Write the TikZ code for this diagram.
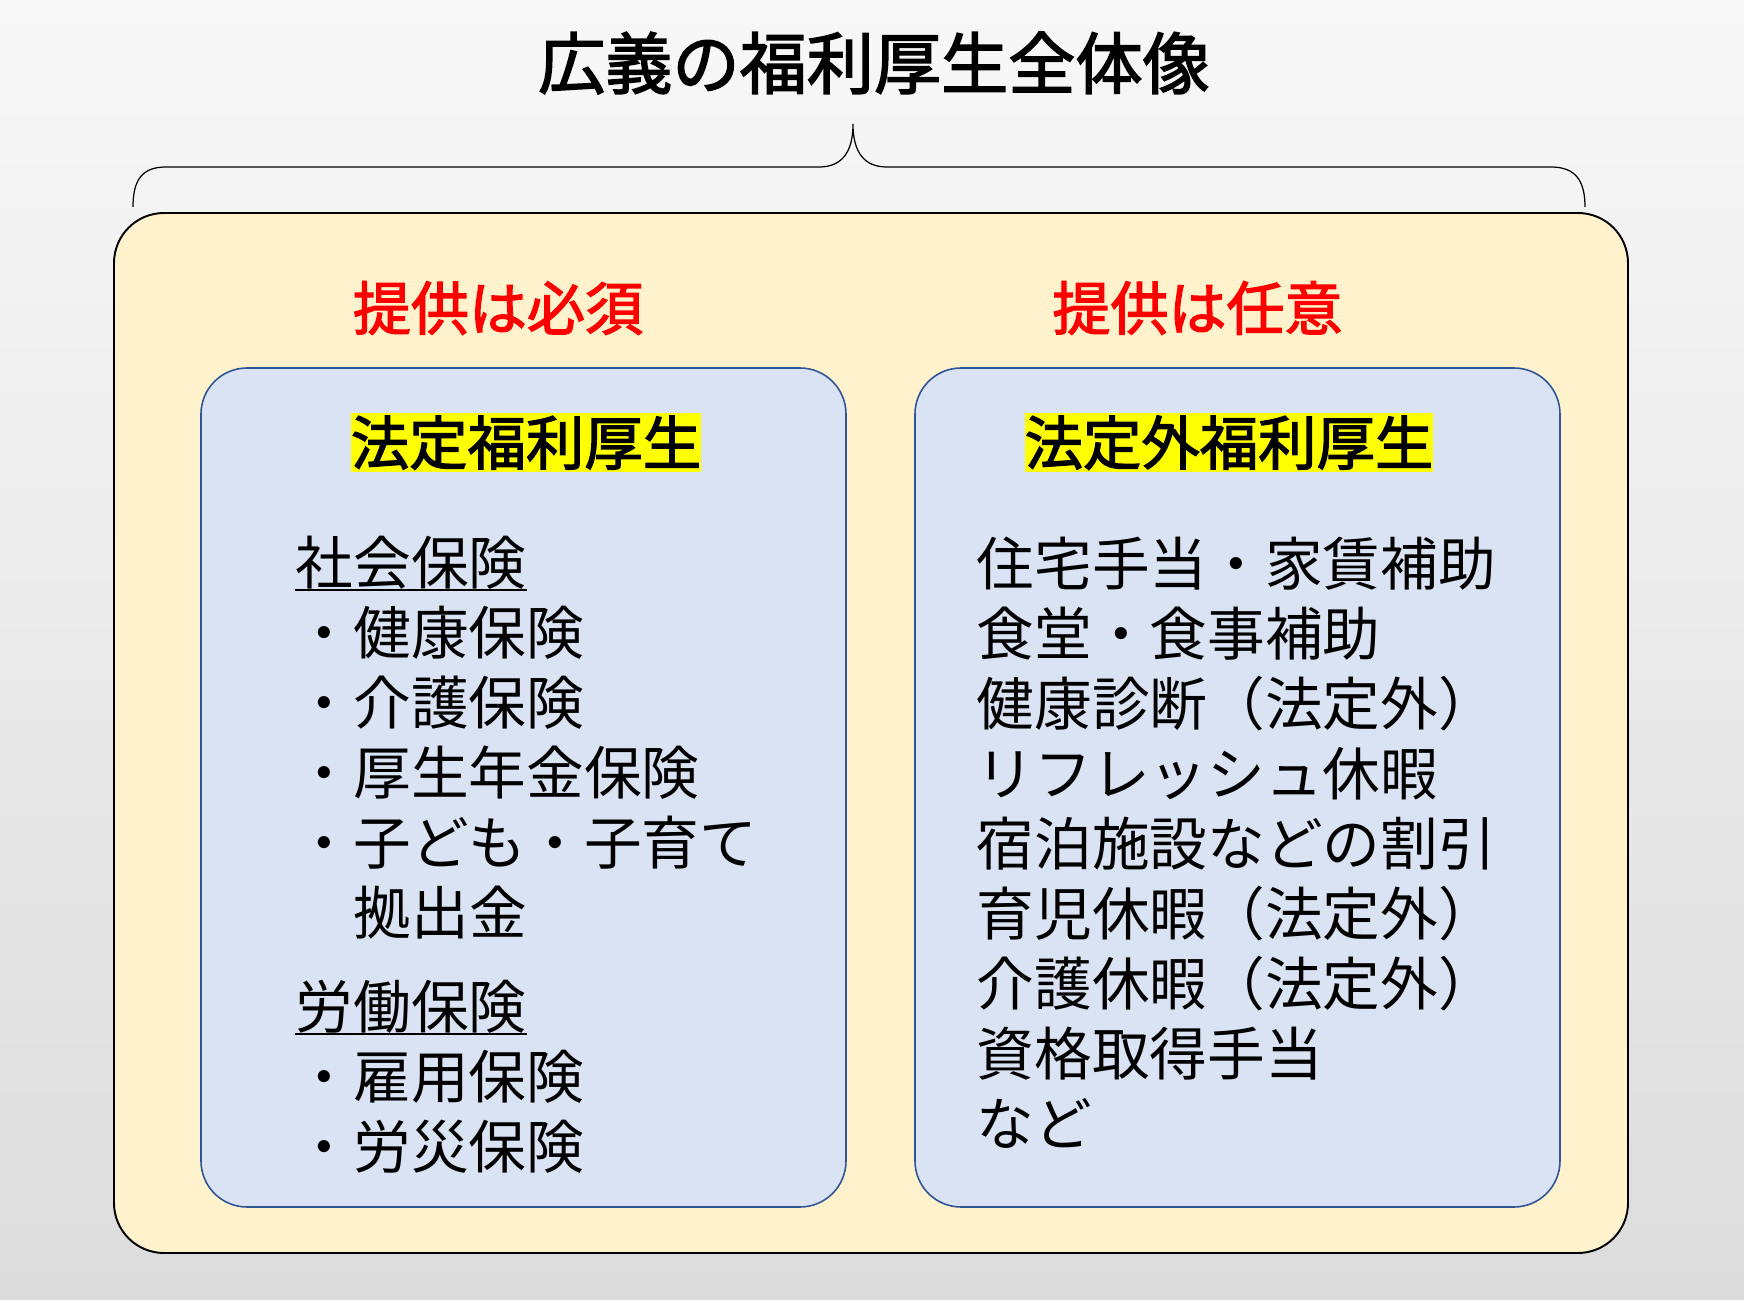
\documentclass[tikz,border=0pt]{standalone}
\usepackage{fontspec}
\setmainfont{Noto Sans CJK JP}
\newfontfamily\jpmed[FakeBold=2.2]{Noto Sans CJK JP}
\definecolor{outerfill}{HTML}{FFF2CC}
\definecolor{innerfill}{HTML}{DAE3F3}
\definecolor{innerdraw}{HTML}{2F5597}
\definecolor{hlyellow}{HTML}{FFFF00}
\definecolor{redtxt}{HTML}{FF0000}
\definecolor{bgtop}{HTML}{F8F8F8}
\definecolor{bgbottom}{HTML}{DCDCDC}
\begin{document}
\begin{tikzpicture}[x=0.01cm,y=-0.01cm,
  body/.style={inner sep=0pt, text height=14.43pt, text depth=1.97pt, anchor=west,
    font=\fontsize{16.4pt}{16.4pt}\selectfont},
  redhead/.style={inner sep=0pt, text height=14.52pt, text depth=1.98pt,
    text=redtxt, font=\fontsize{16.5pt}{16.5pt}\jpmed},
  hltitle/.style={inner xsep=0pt, inner ysep=0pt, text height=14.61pt, text depth=1.99pt,
    fill=hlyellow, font=\fontsize{16.6pt}{16.6pt}\jpmed},
  maintitle/.style={inner sep=0pt, text height=16.81pt, text depth=2.29pt,
    font=\fontsize{19.1pt}{19.1pt}\jpmed},
  outerbox/.style={fill=outerfill, draw=black, line width=0.55pt, rounded corners=0.5cm},
  innerbox/.style={fill=innerfill, draw=innerdraw, line width=0.45pt, rounded corners=0.46cm},
  ul/.style={line width=0.6pt}]
\useasboundingbox (0,0) rectangle (1744,1300);
\shade[top color=bgtop, bottom color=bgbottom] (0,0) rectangle (1744,1300);

% title and brace
\node[maintitle] (title) at (874,63) {広義の福利厚生全体像};
\draw[line width=0.35pt] (133,207) .. controls (133,180) and (142,167) .. (166,167)
  -- (819,167) .. controls (842,167) and (853,152) .. (853,124)
  .. controls (853,152) and (864,167) .. (887,167)
  -- (1551,167) .. controls (1575,167) and (1585,180) .. (1585,207);

% boxes
\draw[outerbox] (114,213) rectangle (1628,1253);
\draw[innerbox] (201,368) rectangle (846,1207);
\draw[innerbox] (915,368) rectangle (1560,1207);

% red headings
\node[redhead] (reqL) at (498,308) {提供は必須};
\node[redhead] (reqR) at (1197.5,308) {提供は任意};

% highlighted titles
\node[hltitle] (hlL) at (526,442.5) {法定福利厚生};
\node[hltitle] (hlR) at (1229,442.5) {法定外福利厚生};

% left column
\node[body] (l1) at (295,562.5) {社会保険};
\node[body] (l2) at (295,632.5) {・健康保険};
\node[body] (l3) at (295,702.5) {・介護保険};
\node[body] (l4) at (295,772.5) {・厚生年金保険};
\node[body] (l5) at (295,842.5) {・子ども・子育て};
\node[body] (l6) at (353,912.5) {拠出金};
\node[body] (l7) at (295,1007) {労働保険};
\node[body] (l8) at (295,1077) {・雇用保険};
\node[body] (l9) at (295,1147) {・労災保険};
\draw[ul] ([yshift=0.6pt]l1.south west) -- ([yshift=0.6pt]l1.south east);
\draw[ul] ([yshift=0.6pt]l7.south west) -- ([yshift=0.6pt]l7.south east);

% right column
\node[body] (r1) at (976,564) {住宅手当・家賃補助};
\node[body] (r2) at (976,634) {食堂・食事補助};
\node[body] (r3) at (976,704) {健康診断（法定外）};
\node[body] (r4) at (976,774) {リフレッシュ休暇};
\node[body] (r5) at (976,844) {宿泊施設などの割引};
\node[body] (r6) at (976,914) {育児休暇（法定外）};
\node[body] (r7) at (976,984) {介護休暇（法定外）};
\node[body] (r8) at (976,1054) {資格取得手当};
\node[body] (r9) at (976,1124) {など};
\end{tikzpicture}
\end{document}
